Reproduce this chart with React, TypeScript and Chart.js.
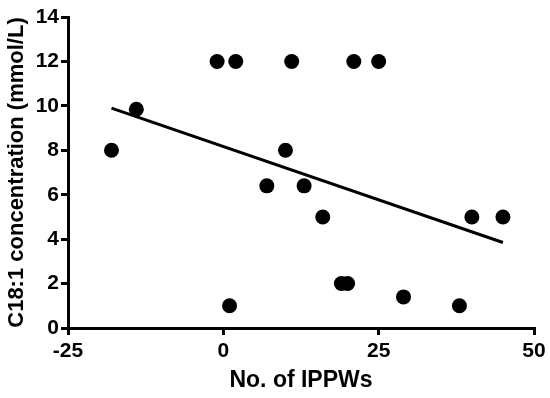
import React, { useEffect, useRef } from "react";
import { Chart, registerables } from "chart.js";

Chart.register(...registerables);

const ippws = [-18, -14, -1, 2, 11, 21, 25, 10, 7, 13, 16, 40, 45, 1, 19, 20, 29, 38];
const c181 = [8, 9.85, 12, 12, 12, 12, 12, 8, 6.4, 6.4, 5, 5, 5, 1, 2, 2, 1.4, 1];
const fitX = [-18, 45];
const fitY = [9.9, 3.85];
const xTicks = [-25, 0, 25, 50];
const yTicks = [0, 2, 4, 6, 8, 10, 12, 14];

export default function App() {
  const ref = useRef<HTMLCanvasElement>(null);
  useEffect(() => {
    const font = { family: "'Liberation Sans', Arial, sans-serif", size: 21, weight: "bold" as const };
    const chart = new Chart(ref.current!, {
      type: "scatter",
      data: {
        datasets: [
          {
            type: "line",
            data: fitX.map((x, i) => ({ x, y: fitY[i] })),
            borderColor: "#000",
            borderWidth: 3,
            pointRadius: 0,
            fill: false,
          },
          {
            type: "scatter",
            data: ippws.map((x, i) => ({ x, y: c181[i] })),
            backgroundColor: "#000",
            borderColor: "#000",
            pointRadius: 7.5,
            borderWidth: 0,
          },
        ],
      },
      options: {
        animation: false,
        responsive: false,
        layout: { padding: { top: 17, right: 16, left: 0, bottom: 0 } },
        plugins: { legend: { display: false }, tooltip: { enabled: false } },
        scales: {
          x: {
            type: "linear",
            min: -25,
            max: 50,
            afterBuildTicks: (s: any) => { s.ticks = xTicks.map((v) => ({ value: v })); },
            afterFit: (s: any) => { s.height = 70; },
            border: { display: true, color: "#000", width: 3 },
            grid: { display: true, drawOnChartArea: false, drawTicks: true, tickLength: 7, color: "#000", lineWidth: 3 },
            ticks: { color: "#000", font, padding: 4, maxRotation: 0 },
            title: { display: true, text: "No. of IPPWs", color: "#000", font: { ...font, size: 23 }, padding: { top: 4 } },
          },
          y: {
            type: "linear",
            min: 0,
            max: 14,
            afterBuildTicks: (s: any) => { s.ticks = yTicks.map((v) => ({ value: v })); },
            afterFit: (s: any) => { s.width = 68; },
            border: { display: true, color: "#000", width: 3 },
            grid: { display: true, drawOnChartArea: false, drawTicks: true, tickLength: 7, color: "#000", lineWidth: 3 },
            ticks: { color: "#000", font, padding: 2 },
            title: { display: true, text: "C18:1 concentration (mmol/L)", color: "#000", font: { ...font, size: 22 }, padding: { bottom: 2 } },
          },
        },
      },
    });
    return () => chart.destroy();
  }, []);
  return (
    <div style={{ position: "fixed", left: 0, top: 0, width: 550, height: 398, background: "#fff" }}>
      <canvas ref={ref} width={550} height={398} />
    </div>
  );
}
